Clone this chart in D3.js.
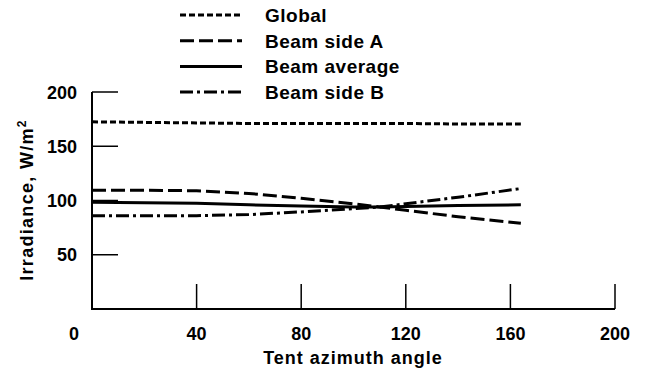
<!DOCTYPE html>
<html>
<head>
  <script src="https://d3js.org/d3.v7.min.js"></script>
  <style>
    body { margin: 0; background: #fff; }
    text { font-family: "Liberation Sans", Arial, sans-serif; font-weight: bold; fill: #000; }
  </style>
</head>
<body>
  <svg id="chart" width="649" height="375"></svg>
  <script>
    // data
    const angles = [0, 20, 40, 60, 80, 100, 110, 120, 140, 164];
    const globalIrr = [172.5, 172, 171.5, 171, 171, 171, 171, 171, 170.5, 170.5];
    const beamSideA = [109.5, 109.5, 109, 106.5, 102, 97, 94, 91, 85, 79];
    const beamAverage = [98.5, 98, 97.5, 96, 95, 94, 94, 94.5, 95.5, 96];
    const beamSideB = [86, 86, 86, 87, 89.5, 92.5, 94, 97, 103, 111];
    const xTicks = [0, 40, 80, 120, 160, 200];
    const yTicks = [50, 100, 150, 200];

    const series = [
      { name: "Global", values: globalIrr, dash: "6,3" },
      { name: "Beam side A", values: beamSideA, dash: "14,5" },
      { name: "Beam average", values: beamAverage, dash: null },
      { name: "Beam side B", values: beamSideB, dash: "13,4,3,4" }
    ];

    const svg = d3.select("#chart");
    const x = d3.scaleLinear().domain([0, 200]).range([92, 615]);
    const y = d3.scaleLinear().domain([0, 200]).range([309, 92]);

    // axes lines
    svg.append("path")
      .attr("d", `M${x(0)},${y(200)}V${y(0)}H${x(200)}`)
      .attr("fill", "none").attr("stroke", "#000").attr("stroke-width", 2);

    // y ticks (pointing right from the axis)
    svg.selectAll(".ytick").data(yTicks).enter().append("line")
      .attr("x1", x(0)).attr("x2", x(0) + 26)
      .attr("y1", d => y(d)).attr("y2", d => y(d))
      .attr("stroke", "#000").attr("stroke-width", 1.5);
    svg.selectAll(".ylab").data(yTicks).enter().append("text")
      .attr("x", 77).attr("y", d => y(d) + 6.5)
      .attr("text-anchor", "end").attr("font-size", 18)
      .text(d => d);

    // x ticks (pointing up)
    svg.selectAll(".xtick").data(xTicks.slice(1)).enter().append("line")
      .attr("x1", d => x(d)).attr("x2", d => x(d))
      .attr("y1", y(0)).attr("y2", y(0) - 25)
      .attr("stroke", "#000").attr("stroke-width", 1.5);
    svg.selectAll(".xlab").data(xTicks).enter().append("text")
      .attr("x", d => d === 0 ? x(d) - 18 : x(d))
      .attr("y", 340)
      .attr("text-anchor", "middle").attr("font-size", 18)
      .text(d => d);

    // axis titles
    svg.append("text")
      .attr("x", 353).attr("y", 364)
      .attr("text-anchor", "middle").attr("font-size", 18)
      .attr("letter-spacing", 1)
      .text("Tent azimuth angle");
    const yt = svg.append("text")
      .attr("transform", "translate(33,200) rotate(-90)")
      .attr("text-anchor", "middle").attr("font-size", 18)
      .attr("letter-spacing", 1.3);
    yt.append("tspan").text("Irradiance, W/m");
    yt.append("tspan").attr("dy", -7).attr("font-size", 12).text("2");

    // lines
    const line = d3.line().x((d, i) => x(angles[i])).y(d => y(d));
    series.forEach(s => {
      svg.append("path")
        .datum(s.values)
        .attr("d", line)
        .attr("fill", "none")
        .attr("stroke", "#000")
        .attr("stroke-width", 3)
        .attr("stroke-dasharray", s.dash);
    });

    // legend
    const legend = svg.append("g");
    series.forEach((s, i) => {
      const ly = 15 + i * 25.7;
      legend.append("line")
        .attr("x1", 180).attr("x2", 242).attr("y1", ly).attr("y2", ly)
        .attr("stroke", "#000").attr("stroke-width", 3)
        .attr("stroke-dasharray", s.dash);
      legend.append("text")
        .attr("x", 265).attr("y", ly + 7)
        .attr("font-size", 19)
        .attr("letter-spacing", 0.5)
        .text(s.name);
    });
  </script>
</body>
</html>
